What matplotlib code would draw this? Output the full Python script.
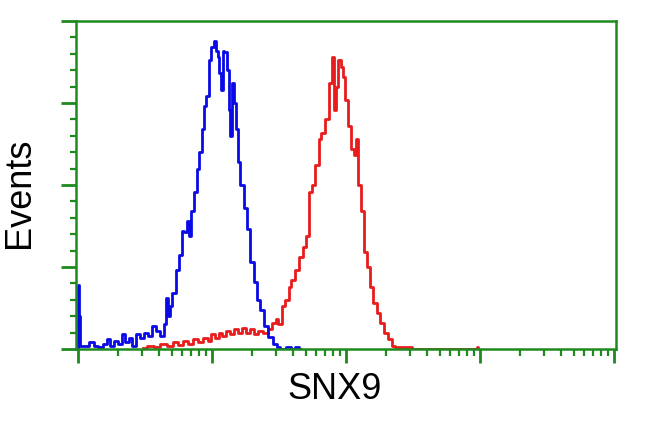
import matplotlib
matplotlib.use("Agg")
import matplotlib.pyplot as plt
import numpy as np
from matplotlib.ticker import LogLocator, MultipleLocator, NullFormatter

# log10 fluorescence intensity (decades) and event counts
blue_log = [0.0, 0.0, 0.01, 0.015, 0.060, 0.104, 0.127, 0.164, 0.201, 0.224, 0.254, 0.284,
            0.313, 0.336, 0.366, 0.388, 0.418, 0.448, 0.478, 0.507, 0.537, 0.567, 0.597,
            0.627, 0.649, 0.664, 0.672, 0.694, 0.716, 0.739, 0.761, 0.784, 0.799, 0.821,
            0.836, 0.851, 0.873, 0.896, 0.910, 0.933, 0.948, 0.963, 0.985, 1.007, 1.022,
            1.037, 1.045, 1.060, 1.075, 1.082, 1.104, 1.119, 1.134, 1.142, 1.157, 1.172,
            1.187, 1.201, 1.224, 1.246, 1.269, 1.299, 1.321, 1.343, 1.373, 1.396, 1.433,
            1.470, 1.493, 1.522, 1.582, 1.604, 1.634, 1.657]
blue_counts = [0, 19.5, 10, 1, 0.8, 2, 1, 0.5, 1.5, 3, 1, 2.5,
               1.5, 4.5, 2, 3.5, 1, 4.5, 3.5, 5, 4, 7, 5.5,
               4, 7.5, 15.5, 10, 13, 17, 24, 28.7, 36, 35.6, 39,
               34.5, 42, 48, 55, 60, 67, 74, 77, 88, 92, 94,
               91, 89, 84, 79, 91, 90.5, 85, 73, 65, 81, 75,
               67, 57, 50, 43, 36.6, 26.5, 20.4, 15, 12, 7, 3.7,
               1.5, 0.5, 0, 0.5, 0, 0.5, 0]

red_log = [0.485, 0.537, 0.590, 0.634, 0.687, 0.724, 0.761, 0.799, 0.836, 0.873, 0.910,
           0.948, 0.985, 1.007, 1.037, 1.060, 1.090, 1.119, 1.149, 1.179, 1.209, 1.239,
           1.269, 1.299, 1.328, 1.358, 1.396, 1.433, 1.463, 1.485, 1.507, 1.530, 1.560,
           1.582, 1.604, 1.634, 1.657, 1.694, 1.716, 1.731, 1.754, 1.784, 1.806, 1.828,
           1.858, 1.881, 1.903, 1.918, 1.933, 1.948, 1.970, 1.978, 2.007, 2.022, 2.045,
           2.067, 2.082, 2.104, 2.127, 2.142, 2.164, 2.194, 2.216, 2.239, 2.269, 2.291,
           2.328, 2.351, 2.381, 2.478, 2.507, 2.970, 2.978, 2.985]
red_counts = [0.3, 0.8, 0.5, 1.5, 1, 2, 1.2, 2.5, 1.5, 3, 2,
              3.5, 2.5, 4.5, 3.5, 5, 4, 5.5, 4.5, 6, 5, 6.5,
              5, 6, 4.5, 5.5, 5, 6, 8, 9, 7.5, 13, 15,
              19, 21, 24, 28, 31, 34.5, 48, 50, 56, 64, 66,
              70, 81, 89, 73, 80, 88, 86, 83, 76, 68, 61,
              59, 64, 50, 42, 29.5, 25, 19, 14, 11, 8, 5,
              3, 1, 0.5, 0.5, 0, 0, 0.6, 0]

x_label = "SNX9"
y_label = "Events"

green = "#1e8a1e"

fig = plt.figure(figsize=(6.5, 4.31), dpi=100)
ax = fig.add_axes([76/650, 1 - 350/431, 540/650, 328/431])

ax.step(10 ** np.array(red_log), red_counts, where="mid", color="#e81c1c", lw=2.0)
ax.step(10 ** np.array(blue_log), blue_counts, where="mid", color="#0a0ae6", lw=2.0)

ax.set_xscale("log")
ax.set_xlim(10 ** -0.015, 10 ** 4.015)
ax.set_ylim(0, 100)

ax.xaxis.set_major_locator(LogLocator(base=10, numticks=10))
ax.xaxis.set_minor_locator(LogLocator(base=10, subs=np.arange(2, 10), numticks=100))
ax.xaxis.set_major_formatter(NullFormatter())
ax.xaxis.set_minor_formatter(NullFormatter())
ax.yaxis.set_major_locator(MultipleLocator(25))
ax.yaxis.set_minor_locator(MultipleLocator(5))
ax.yaxis.set_major_formatter(NullFormatter())

ax.tick_params(axis="x", which="major", length=10, width=2, color=green, direction="out")
ax.tick_params(axis="x", which="minor", length=5, width=1.6, color=green, direction="out")
ax.tick_params(axis="y", which="major", length=11, width=2, color=green, direction="out")
ax.tick_params(axis="y", which="minor", length=4.5, width=1.6, color=green, direction="out")

for s in ax.spines.values():
    s.set_color(green)
    s.set_linewidth(1.8)

ax.set_xlabel(x_label, fontsize=26, family="Liberation Sans")
ax.set_ylabel(y_label, fontsize=26, family="Liberation Sans")
ax.xaxis.set_label_coords(0.5 + (335 - 346) / 540, -0.068)
ax.yaxis.set_label_coords(-0.072, 0.5 + (186 - 193) / 328)

fig.savefig("out.png", dpi=100)
